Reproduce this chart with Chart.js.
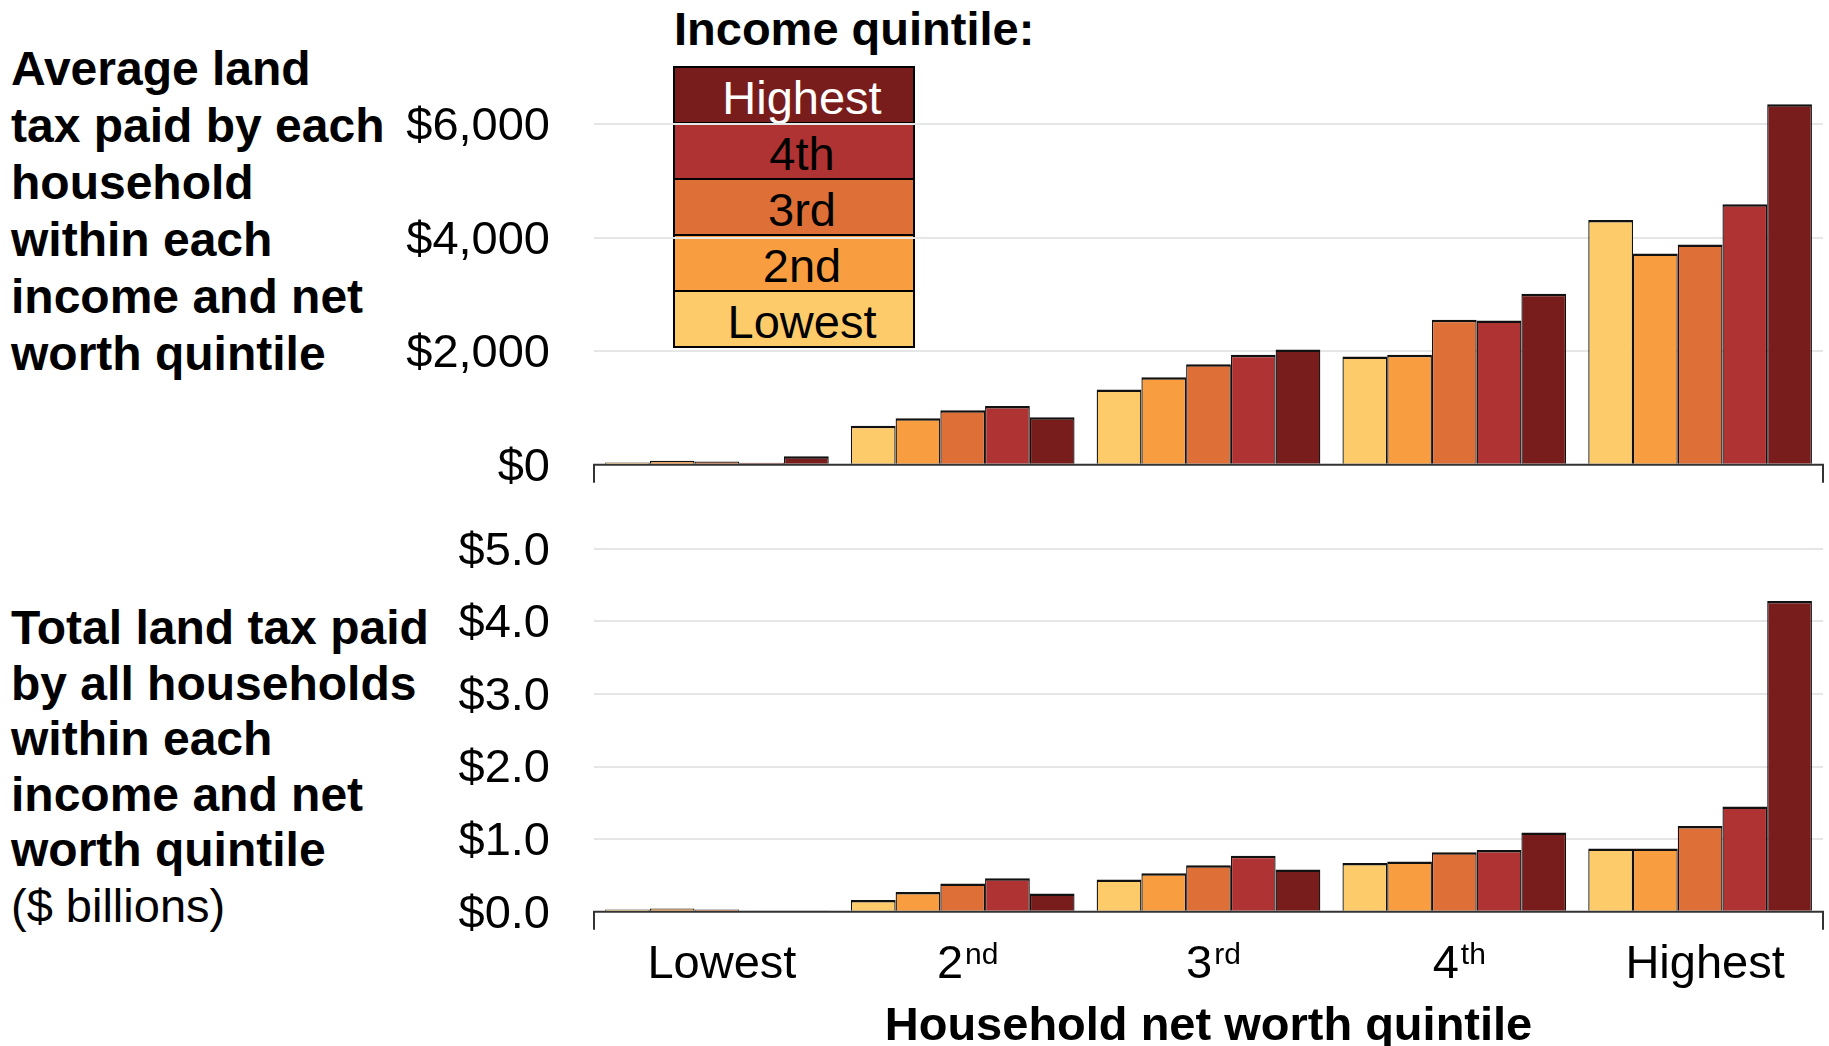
<!DOCTYPE html>
<html>
<head>
<meta charset="utf-8">
<script src="https://cdn.jsdelivr.net/npm/chart.js@4.4.1/dist/chart.umd.min.js"></script>
<style>
  html, body { margin: 0; padding: 0; background: #fff; overflow: hidden; }
  body { width: 1829px; height: 1046px; position: relative; font-family: "Liberation Sans", Arial, sans-serif; }
  canvas { position: absolute; left: 0; }
  #top-chart { top: 0; }
  #bottom-chart { top: 480px; }
  .side-title { position: absolute; left: 11px; font-size: 48px; line-height: 57px; font-weight: bold; color: #000; white-space: nowrap; }
  .side-title .plain { font-weight: normal; font-size: 47px; }
  #legend-title { position: absolute; left: 674px; top: 0px; font-size: 47px; font-weight: bold; line-height: 57px; white-space: nowrap; }
  #legend { position: absolute; left: 673px; top: 68px; width: 242px; }
  #legend div { box-sizing: border-box; height: 58px; border: 2px solid #000; margin-top: -2px; text-align: center; font-size: 47px; line-height: 54px; padding-left: 16px; white-space: nowrap; }
  #legend div span { position: relative; top: 3px; }
</style>
</head>
<body>
<div class="side-title" style="top:40px">Average land<br>tax paid by each<br>household<br>within each<br>income and net<br>worth quintile</div>
<div class="side-title" style="top:600px; line-height:55.5px">Total land tax paid<br>by all households<br>within each<br>income and net<br>worth quintile<br><span class="plain">($ billions)</span></div>
<div id="legend-title">Income quintile:</div>
<div id="legend"></div>
<canvas id="top-chart" width="1829" height="500"></canvas>
<canvas id="bottom-chart" width="1829" height="566"></canvas>
<script>
// categories
var netWorthQuintiles = ['Lowest', '2nd', '3rd', '4th', 'Highest'];
var incomeQuintiles = ['Lowest', '2nd', '3rd', '4th', 'Highest'];
var incomeColors = ['#FECB6B', '#F89E41', '#DE6F37', '#B03333', '#791D1C'];

// average land tax per household ($), one array per income quintile
var avgLowest  = [40, 685, 1325, 1905, 4310];
var avg2nd     = [70, 820, 1540, 1935, 3720];
var avg3rd     = [55, 960, 1770, 2555, 3880];
var avg4th     = [35, 1035, 1935, 2540, 4585];
var avgHighest = [150, 835, 2030, 3010, 6350];

// total land tax paid ($ billions)
var totLowest  = [0.03, 0.16, 0.445, 0.67, 0.87];
var tot2nd     = [0.045, 0.27, 0.53, 0.69, 0.87];
var tot3rd     = [0.03, 0.39, 0.64, 0.82, 1.18];
var tot4th     = [0.015, 0.46, 0.77, 0.85, 1.45];
var totHighest = [0.015, 0.25, 0.58, 1.09, 4.28];

// tick labels
var avgTicks = [0, 2000, 4000, 6000];
var totTicks = [0, 1, 2, 3, 4, 5];

var FONT = '"Liberation Sans", Arial, sans-serif';

// legend (Highest on top)
var legend = document.getElementById('legend');
for (var i = incomeQuintiles.length - 1; i >= 0; i--) {
    var row = document.createElement('div');
    row.style.background = incomeColors[i];
    row.style.color = i === incomeQuintiles.length - 1 ? '#fff' : '#000';
    row.innerHTML = '<span>' + incomeQuintiles[i] + '</span>';
    legend.appendChild(row);
}

function makeDatasets(series) {
    return series.map(function (data, i) {
        return {
            label: incomeQuintiles[i],
            data: data,
            backgroundColor: incomeColors[i],
            borderColor: '#111',
            borderWidth: { top: 2.5, left: 1.3, right: 1.3, bottom: 0 },
            categoryPercentage: 0.91,
            barPercentage: 1.0
        };
    });
}

// baseline with end caps
var axisLine = {
    id: 'axisLine',
    afterDatasetsDraw: function (chart) {
        var ctx = chart.ctx, a = chart.chartArea;
        var y = chart.scales.y.getPixelForValue(0);
        ctx.save();
        ctx.strokeStyle = '#333';
        ctx.lineWidth = 2;
        ctx.beginPath();
        ctx.moveTo(a.left, y + 18);
        ctx.lineTo(a.left, y);
        ctx.lineTo(a.right, y);
        ctx.lineTo(a.right, y + 18);
        ctx.stroke();
        ctx.restore();
    }
};

// x labels with superscripts + axis title
var xLabels = {
    id: 'xLabels',
    afterDraw: function (chart) {
        var ctx = chart.ctx, xs = chart.scales.x, a = chart.chartArea;
        var yBase = chart.scales.y.getPixelForValue(0);
        ctx.save();
        ctx.fillStyle = '#000';
        ctx.textBaseline = 'alphabetic';
        ctx.textAlign = 'left';
        netWorthQuintiles.forEach(function (lab, i) {
            var m = lab.match(/^(\d)(\D+)$/);
            var main = m ? m[1] : lab, sup = m ? m[2] : '';
            ctx.font = '47px ' + FONT;
            var w1 = ctx.measureText(main).width;
            ctx.font = '30px ' + FONT;
            var w2 = sup ? ctx.measureText(sup).width + 2 : 0;
            var x0 = xs.getPixelForValue(i) - (w1 + w2) / 2 + 5;
            ctx.font = '47px ' + FONT;
            ctx.fillText(main, x0, yBase + 66);
            if (sup) {
                ctx.font = '30px ' + FONT;
                ctx.fillText(sup, x0 + w1 + 2, yBase + 52);
            }
        });
        ctx.font = 'bold 47px ' + FONT;
        ctx.textAlign = 'center';
        ctx.fillText('Household net worth quintile', (a.left + a.right) / 2, yBase + 128);
        ctx.restore();
    }
};

function makeOptions(max, ticks, fmt, padTop, padBottom) {
    return {
        responsive: false,
        animation: false,
        devicePixelRatio: 1,
        layout: { padding: { top: padTop, bottom: padBottom, left: 0, right: 6 } },
        plugins: { legend: { display: false }, tooltip: { enabled: false } },
        scales: {
            x: { display: false, offset: true },
            y: {
                min: 0,
                max: max,
                afterFit: function (scale) { scale.width = 594; },
                afterBuildTicks: function (scale) {
                    scale.ticks = ticks.map(function (v) { return { value: v }; });
                },
                ticks: {
                    color: '#000',
                    padding: 0,
                    labelOffset: 3,
                    font: { family: FONT, size: 47 },
                    callback: fmt
                },
                grid: {
                    drawTicks: true,
                    tickLength: 44,
                    tickColor: 'rgba(0,0,0,0)',
                    lineWidth: 2,
                    color: function (c) { return c.tick && c.tick.value === 0 ? 'rgba(0,0,0,0)' : '#E4E7E6'; }
                },
                border: { display: false }
            }
        }
    };
}

new Chart(document.getElementById('top-chart'), {
    type: 'bar',
    data: {
        labels: netWorthQuintiles,
        datasets: makeDatasets([avgLowest, avg2nd, avg3rd, avg4th, avgHighest])
    },
    options: makeOptions(6800, avgTicks, function (v) { return '$' + v.toLocaleString('en-US'); }, 78.6, 35.3),
    plugins: [axisLine]
});

new Chart(document.getElementById('bottom-chart'), {
    type: 'bar',
    data: {
        labels: netWorthQuintiles,
        datasets: makeDatasets([totLowest, tot2nd, tot3rd, tot4th, totHighest])
    },
    options: makeOptions(5, totTicks, function (v) { return '$' + v.toFixed(1); }, 68.7, 134.3),
    plugins: [axisLine, xLabels]
});
</script>
</body>
</html>
